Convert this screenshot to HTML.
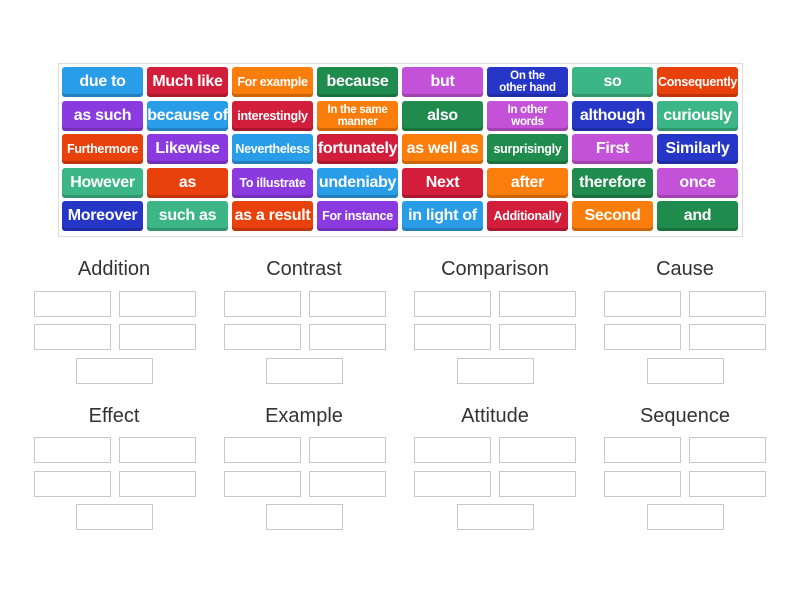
<!DOCTYPE html>
<html><head><meta charset="utf-8"><style>
body{margin:0;width:800px;height:600px;background:#fff;position:relative;overflow:hidden;font-family:"Liberation Sans",sans-serif}
.wrap{position:absolute;left:58px;top:63px;width:683px;height:172px;border:1px solid #ddd;background:#fff}
.t{position:absolute;width:81px;height:30px;border-radius:3px;color:#fff;font-weight:bold;font-size:16px;display:flex;align-items:center;justify-content:center;text-align:center;line-height:12px;box-shadow:inset 0 -3px 0 rgba(0,0,0,.18);white-space:nowrap;letter-spacing:-0.3px}
.s{font-size:12.5px}.x{font-size:11.5px;line-height:12px;white-space:normal}
.B{background:#2a9de8}.R{background:#d21d3b}.O{background:#fb7d0b}.G{background:#1f8b4c}.M{background:#c452d8}.N{background:#2636c7}.T{background:#3db687}.RO{background:#e9410c}.P{background:#8b3ae0}
.h{position:absolute;width:190px;text-align:center;font-size:20px;color:#333}
.b{position:absolute;width:75px;height:24px;border:1px solid #c8c8c8}
</style></head><body>
<div class="wrap"></div>
<div class="t B" style="left:62px;top:67px">due to</div>
<div class="t R" style="left:147px;top:67px">Much like</div>
<div class="t O s" style="left:232px;top:67px">For example</div>
<div class="t G" style="left:317px;top:67px">because</div>
<div class="t M" style="left:402px;top:67px">but</div>
<div class="t N x" style="left:487px;top:67px">On the<br>other hand</div>
<div class="t T" style="left:572px;top:67px">so</div>
<div class="t RO s" style="left:657px;top:67px">Consequently</div>
<div class="t P" style="left:62px;top:101px">as such</div>
<div class="t B" style="left:147px;top:101px">because of</div>
<div class="t R s" style="left:232px;top:101px">interestingly</div>
<div class="t O x" style="left:317px;top:101px">In the same<br>manner</div>
<div class="t G" style="left:402px;top:101px">also</div>
<div class="t M x" style="left:487px;top:101px">In other<br>words</div>
<div class="t N" style="left:572px;top:101px">although</div>
<div class="t T" style="left:657px;top:101px">curiously</div>
<div class="t RO s" style="left:62px;top:134px">Furthermore</div>
<div class="t P" style="left:147px;top:134px">Likewise</div>
<div class="t B s" style="left:232px;top:134px">Nevertheless</div>
<div class="t R" style="left:317px;top:134px">fortunately</div>
<div class="t O" style="left:402px;top:134px">as well as</div>
<div class="t G s" style="left:487px;top:134px">surprisingly</div>
<div class="t M" style="left:572px;top:134px">First</div>
<div class="t N" style="left:657px;top:134px">Similarly</div>
<div class="t T" style="left:62px;top:168px">However</div>
<div class="t RO" style="left:147px;top:168px">as</div>
<div class="t P s" style="left:232px;top:168px">To illustrate</div>
<div class="t B" style="left:317px;top:168px">undeniaby</div>
<div class="t R" style="left:402px;top:168px">Next</div>
<div class="t O" style="left:487px;top:168px">after</div>
<div class="t G" style="left:572px;top:168px">therefore</div>
<div class="t M" style="left:657px;top:168px">once</div>
<div class="t N" style="left:62px;top:201px">Moreover</div>
<div class="t T" style="left:147px;top:201px">such as</div>
<div class="t RO" style="left:232px;top:201px">as a result</div>
<div class="t P s" style="left:317px;top:201px">For instance</div>
<div class="t B" style="left:402px;top:201px">in light of</div>
<div class="t R s" style="left:487px;top:201px">Additionally</div>
<div class="t O" style="left:572px;top:201px">Second</div>
<div class="t G" style="left:657px;top:201px">and</div>

<div class="h" style="left:19px;top:258px">Addition</div>
<div class="h" style="left:209px;top:258px">Contrast</div>
<div class="h" style="left:400px;top:258px">Comparison</div>
<div class="h" style="left:590px;top:258px">Cause</div>
<div class="b" style="left:34px;top:291px"></div><div class="b" style="left:119px;top:291px"></div>
<div class="b" style="left:34px;top:324px"></div><div class="b" style="left:119px;top:324px"></div>
<div class="b" style="left:76px;top:358px"></div>
<div class="b" style="left:224px;top:291px"></div><div class="b" style="left:309px;top:291px"></div>
<div class="b" style="left:224px;top:324px"></div><div class="b" style="left:309px;top:324px"></div>
<div class="b" style="left:266px;top:358px"></div>
<div class="b" style="left:414px;top:291px"></div><div class="b" style="left:499px;top:291px"></div>
<div class="b" style="left:414px;top:324px"></div><div class="b" style="left:499px;top:324px"></div>
<div class="b" style="left:457px;top:358px"></div>
<div class="b" style="left:604px;top:291px"></div><div class="b" style="left:689px;top:291px"></div>
<div class="b" style="left:604px;top:324px"></div><div class="b" style="left:689px;top:324px"></div>
<div class="b" style="left:647px;top:358px"></div>
<div class="h" style="left:19px;top:405px">Effect</div>
<div class="h" style="left:209px;top:405px">Example</div>
<div class="h" style="left:400px;top:405px">Attitude</div>
<div class="h" style="left:590px;top:405px">Sequence</div>
<div class="b" style="left:34px;top:437px"></div><div class="b" style="left:119px;top:437px"></div>
<div class="b" style="left:34px;top:471px"></div><div class="b" style="left:119px;top:471px"></div>
<div class="b" style="left:76px;top:504px"></div>
<div class="b" style="left:224px;top:437px"></div><div class="b" style="left:309px;top:437px"></div>
<div class="b" style="left:224px;top:471px"></div><div class="b" style="left:309px;top:471px"></div>
<div class="b" style="left:266px;top:504px"></div>
<div class="b" style="left:414px;top:437px"></div><div class="b" style="left:499px;top:437px"></div>
<div class="b" style="left:414px;top:471px"></div><div class="b" style="left:499px;top:471px"></div>
<div class="b" style="left:457px;top:504px"></div>
<div class="b" style="left:604px;top:437px"></div><div class="b" style="left:689px;top:437px"></div>
<div class="b" style="left:604px;top:471px"></div><div class="b" style="left:689px;top:471px"></div>
<div class="b" style="left:647px;top:504px"></div>
</body></html>
